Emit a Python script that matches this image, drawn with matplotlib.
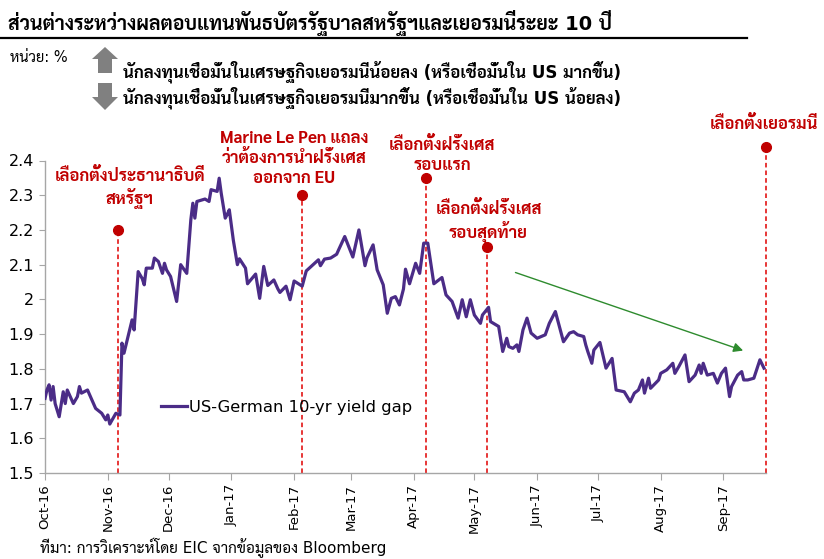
import matplotlib
matplotlib.use("Agg")
import matplotlib.pyplot as plt
import matplotlib.dates as mdates
import pandas as pd
from matplotlib.patches import Polygon
from matplotlib.lines import Line2D

plt.rcParams["font.family"] = ["DejaVu Sans", "Sarabun"]

# ------------------------------------------------------------------
# data
# ------------------------------------------------------------------
dates = [
    "2016-10-01", "2016-10-02", "2016-10-03", "2016-10-04", "2016-10-05", "2016-10-06",
    "2016-10-08", "2016-10-10", "2016-10-11", "2016-10-12", "2016-10-15", "2016-10-17",
    "2016-10-18", "2016-10-19", "2016-10-22", "2016-10-26", "2016-10-29", "2016-10-31",
    "2016-11-01", "2016-11-02", "2016-11-05", "2016-11-07", "2016-11-08", "2016-11-09",
    "2016-11-11", "2016-11-13", "2016-11-14", "2016-11-16", "2016-11-18", "2016-11-19",
    "2016-11-20", "2016-11-23", "2016-11-24", "2016-11-26", "2016-11-28", "2016-11-29",
    "2016-11-30", "2016-12-02", "2016-12-05", "2016-12-07", "2016-12-10", "2016-12-12",
    "2016-12-13", "2016-12-14", "2016-12-15", "2016-12-19", "2016-12-21", "2016-12-22",
    "2016-12-25", "2016-12-26", "2016-12-27", "2016-12-29", "2016-12-30", "2016-12-31",
    "2017-01-02", "2017-01-04", "2017-01-05", "2017-01-08", "2017-01-09", "2017-01-13",
    "2017-01-15", "2017-01-17", "2017-01-19", "2017-01-22", "2017-01-24", "2017-01-25",
    "2017-01-28", "2017-01-30", "2017-02-01", "2017-02-05", "2017-02-07", "2017-02-13",
    "2017-02-14", "2017-02-16", "2017-02-19", "2017-02-22", "2017-02-23", "2017-02-26",
    "2017-03-02", "2017-03-05", "2017-03-08", "2017-03-09", "2017-03-12", "2017-03-14",
    "2017-03-17", "2017-03-19", "2017-03-21", "2017-03-23", "2017-03-25", "2017-03-27",
    "2017-03-28", "2017-03-30", "2017-04-02", "2017-04-04", "2017-04-06", "2017-04-08",
    "2017-04-11", "2017-04-15", "2017-04-17", "2017-04-20", "2017-04-23", "2017-04-25",
    "2017-04-27", "2017-04-29", "2017-05-01", "2017-05-04", "2017-05-05", "2017-05-08",
    "2017-05-09", "2017-05-13", "2017-05-15", "2017-05-17", "2017-05-18", "2017-05-20",
    "2017-05-22", "2017-05-23", "2017-05-25", "2017-05-27", "2017-05-29", "2017-06-01",
    "2017-06-05", "2017-06-07", "2017-06-10", "2017-06-14", "2017-06-17", "2017-06-19",
    "2017-06-21", "2017-06-24", "2017-06-25", "2017-06-26", "2017-06-28", "2017-06-29",
    "2017-07-02", "2017-07-05", "2017-07-08", "2017-07-10", "2017-07-14", "2017-07-17",
    "2017-07-19", "2017-07-21", "2017-07-23", "2017-07-24", "2017-07-26", "2017-07-27",
    "2017-07-31", "2017-08-01", "2017-08-04", "2017-08-07", "2017-08-08", "2017-08-10",
    "2017-08-13", "2017-08-15", "2017-08-18", "2017-08-20", "2017-08-21", "2017-08-22",
    "2017-08-24", "2017-08-27", "2017-08-29", "2017-08-31", "2017-09-02", "2017-09-04",
    "2017-09-05", "2017-09-08", "2017-09-10", "2017-09-11", "2017-09-13", "2017-09-16",
    "2017-09-19", "2017-09-21",
]
yield_gap = [
    1.715, 1.740, 1.754, 1.710, 1.749, 1.700,
    1.662, 1.734, 1.700, 1.739, 1.700, 1.720,
    1.749, 1.730, 1.739, 1.686, 1.672, 1.653,
    1.667, 1.641, 1.672, 1.667, 1.874, 1.845,
    1.893, 1.941, 1.912, 2.080, 2.060, 2.042,
    2.090, 2.090, 2.119, 2.109, 2.075, 2.104,
    2.085, 2.066, 1.994, 2.100, 2.075, 2.229,
    2.277, 2.234, 2.282, 2.289, 2.282, 2.316,
    2.311, 2.349, 2.306, 2.234, 2.245, 2.258,
    2.170, 2.100, 2.117, 2.090, 2.045, 2.073,
    2.003, 2.095, 2.040, 2.056, 2.030, 2.020,
    2.038, 1.999, 2.053, 2.038, 2.082, 2.114,
    2.097, 2.116, 2.119, 2.130, 2.143, 2.181,
    2.122, 2.200, 2.097, 2.120, 2.157, 2.085,
    2.042, 1.960, 2.003, 2.008, 1.984, 2.030,
    2.087, 2.045, 2.104, 2.075, 2.162, 2.162,
    2.045, 2.063, 2.013, 1.994, 1.946, 1.999,
    1.950, 1.999, 1.955, 1.931, 1.955, 1.977,
    1.936, 1.922, 1.850, 1.888, 1.864, 1.859,
    1.869, 1.850, 1.912, 1.946, 1.903, 1.888,
    1.898, 1.931, 1.965, 1.878, 1.903, 1.907,
    1.898, 1.893, 1.869, 1.850, 1.816, 1.854,
    1.876, 1.802, 1.830, 1.739, 1.734, 1.705,
    1.730, 1.739, 1.768, 1.730, 1.773, 1.744,
    1.768, 1.787, 1.797, 1.816, 1.787, 1.807,
    1.840, 1.763, 1.782, 1.811, 1.787, 1.816,
    1.782, 1.787, 1.759, 1.787, 1.802, 1.720,
    1.749, 1.782, 1.792, 1.768, 1.768, 1.773,
    1.826, 1.802,
]

# events: date of the dashed line, height of the dot
event_dates = ["2016-11-06", "2017-02-05", "2017-04-07", "2017-05-07", "2017-09-22"]
event_dot = [2.20, 2.30, 2.35, 2.15, 2.44]
event_labels = [
    "เลือกตั้งประธานาธิบดี\nสหรัฐฯ",
    "Marine Le Pen แถลง\nว่าต้องการนำฝรั่งเศส\nออกจาก EU",
    "เลือกตั้งฝรั่งเศส\nรอบแรก",
    "เลือกตั้งฝรั่งเศส\nรอบสุดท้าย",
    "เลือกตั้งเยอรมนี",
]
label_dates = ["2016-11-12", "2017-02-01", "2017-04-15", "2017-05-08", "2017-09-21"]
label_y = [2.32, 2.406, 2.414, 2.223, 2.503]

trend_start = ("2017-05-20", 2.08)
trend_end = ("2017-09-12", 1.85)

PURPLE = "#4B2C87"
RED = "#C00000"
GREEN = "#2E8B2E"
GREY = "#808080"

W, H = 824, 559


def fx(px):
    return px / W


def fy(py):
    return 1 - py / H


fig = plt.figure(figsize=(W / 100, H / 100), dpi=100)
ax = fig.add_axes([fx(45), fy(473), fx(766 - 45), (473 - 160.5) / H])

x = pd.to_datetime(dates)
ax.plot(x, yield_gap, color=PURPLE, lw=2.3, solid_joinstyle="round",
        label="US-German 10-yr yield gap", zorder=3)

for d, yd in zip(event_dates, event_dot):
    dd = pd.Timestamp(d)
    ax.plot([dd, dd], [1.5, yd], color="#E00000", lw=1.1, ls=(0, (3, 2)),
            clip_on=False, zorder=2)
    ax.plot([dd], [yd], "o", color=RED, ms=7, clip_on=False, zorder=4)

for txt, d, yl in zip(event_labels, label_dates, label_y):
    ax.text(pd.Timestamp(d), yl, txt, ha="center", va="center", color=RED,
            fontsize=12, fontweight="bold", linespacing=1.2, clip_on=False,
            family=["Sarabun", "DejaVu Sans"])

ax.annotate("", xy=(pd.Timestamp(trend_end[0]), trend_end[1]),
            xytext=(pd.Timestamp(trend_start[0]), trend_start[1]),
            arrowprops=dict(arrowstyle="-|>", color=GREEN, lw=1.0,
                            mutation_scale=14))

ax.set_xlim(pd.Timestamp("2016-10-01"), pd.Timestamp("2017-09-22"))
ax.set_ylim(1.5, 2.4)
ax.set_yticks([1.5, 1.6, 1.7, 1.8, 1.9, 2.0, 2.1, 2.2, 2.3, 2.4])
ax.yaxis.set_major_formatter(plt.FuncFormatter(lambda v, p: f"{v:g}"))
ax.xaxis.set_major_locator(mdates.MonthLocator())
ax.xaxis.set_major_formatter(mdates.DateFormatter("%b-%y"))
for lab in ax.get_xticklabels():
    lab.set_rotation(90)

for s in ("top", "right"):
    ax.spines[s].set_visible(False)
for s in ("left", "bottom"):
    ax.spines[s].set_color("#A6A6A6")
    ax.spines[s].set_linewidth(1.0)
ax.tick_params(axis="y", length=4, color="#A6A6A6", labelsize=11.5, pad=4)
ax.tick_params(axis="x", length=5, color="#A6A6A6", labelsize=9.5, pad=3)

ax.legend(loc="upper left", bbox_to_anchor=(fx(154 - 45) / fx(766 - 45), 0.255),
          frameon=False, fontsize=11.8, handlelength=1.6, handletextpad=0.15,
          borderaxespad=0)

# header
fig.text(fx(8), fy(23), "ส่วนต่างระหว่างผลตอบแทนพันธบัตรรัฐบาลสหรัฐฯและเยอรมนีระยะ 10 ปี",
         fontsize=14, fontweight="bold", va="center", ha="left")
fig.add_artist(Line2D([0, fx(747)], [fy(38), fy(38)], color="black", lw=1.6))
fig.text(fx(10), fy(57), "หน่วย: %", fontsize=10.5, va="center", ha="left")


def arrow(tip_y, base_y, bottom_y):
    pts = [(92, base_y), (105, tip_y), (118, base_y), (112, base_y),
           (112, bottom_y), (98, bottom_y), (98, base_y)]
    return Polygon([(fx(a), fy(b)) for a, b in pts], closed=True,
                   transform=fig.transFigure, color=GREY, lw=0)


fig.add_artist(arrow(47, 59, 73))
fig.add_artist(arrow(110, 97, 83))
fig.text(fx(123), fy(72),
         "นักลงทุนเชื่อมั่นในเศรษฐกิจเยอรมนีน้อยลง (หรือเชื่อมั่นใน US มากขึ้น)",
         fontsize=12, fontweight="bold", va="center", ha="left")
fig.text(fx(123), fy(98),
         "นักลงทุนเชื่อมั่นในเศรษฐกิจเยอรมนีมากขึ้น (หรือเชื่อมั่นใน US น้อยลง)",
         fontsize=12, fontweight="bold", va="center", ha="left")

fig.text(fx(40), fy(548), "ที่มา: การวิเคราะห์โดย EIC จากข้อมูลของ Bloomberg",
         fontsize=11, va="center", ha="left")

fig.savefig("out.png", dpi=100)
